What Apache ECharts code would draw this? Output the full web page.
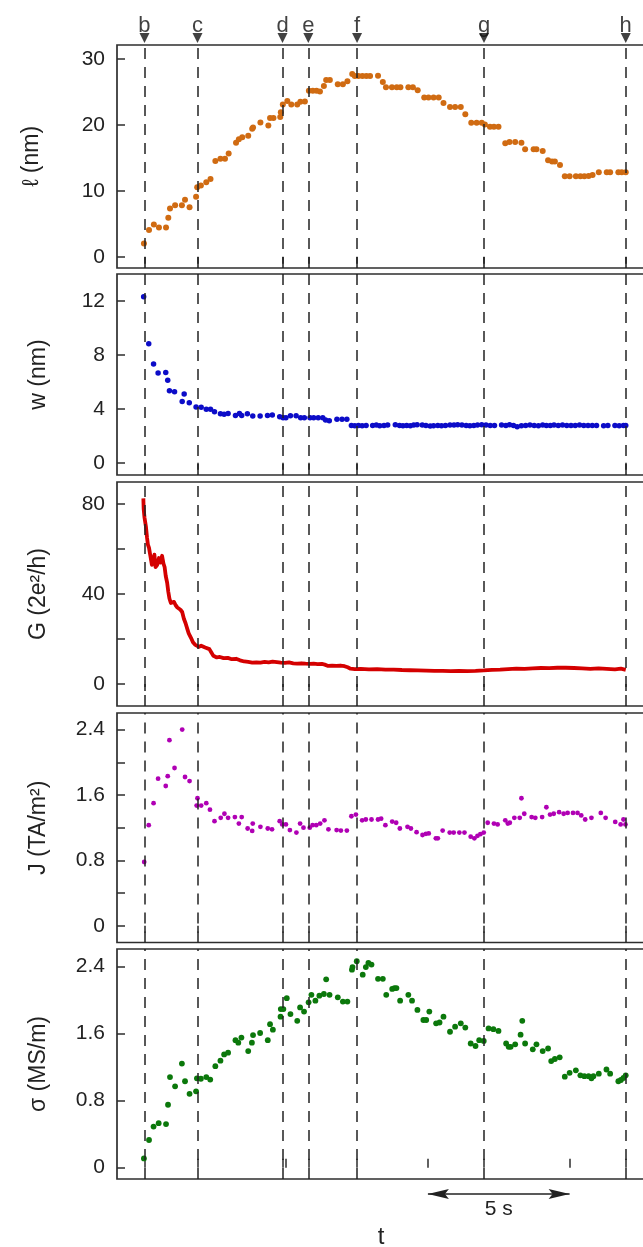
<!DOCTYPE html>
<html>
<head>
<meta charset="utf-8">
<script src="https://cdn.jsdelivr.net/npm/echarts@6/dist/echarts.min.js"></script>
<style>
html,body{margin:0;padding:0;background:#fff;overflow:hidden;width:643px;height:1247px}
#chart{width:662px;height:1247px}
</style>
</head>
<body>
<div id="chart"></div>
<script>
// ---------- event markers (time in s) ----------
const eventT = [5.0, 6.87, 9.87, 10.78, 12.50, 16.98, 21.98];
const eventLabels = ['b', 'c', 'd', 'e', 'f', 'g', 'h'];
const secondTicks = [5, 10, 15, 20];
const scaleBar = [15, 20];
const scaleBarLabel = '5 s';

// ---------- panel 1: length l (nm) ----------
const lenT = [4.98,5.16,5.33,5.51,5.76,5.84,5.90,6.08,6.32,6.43,6.59,6.82,6.86,6.99,7.18,7.33,7.50,7.68,7.84,7.97,8.23,8.33,8.45,8.66,8.80,8.83,9.09,9.37,9.43,9.55,9.79,9.81,9.88,10.04,10.18,10.39,10.50,10.66,10.80,10.94,11.07,11.19,11.33,11.41,11.54,11.82,12.00,12.16,12.33,12.42,12.55,12.69,12.83,12.96,13.24,13.41,13.52,13.73,13.90,14.03,14.31,14.47,14.64,14.87,15.02,15.20,15.38,15.55,15.78,15.96,16.16,16.32,16.53,16.72,16.90,17.01,17.19,17.33,17.49,17.73,17.88,18.08,18.30,18.43,18.73,18.83,19.05,19.24,19.38,19.48,19.66,19.83,20.00,20.22,20.38,20.52,20.67,20.81,21.03,21.31,21.43,21.72,21.84,21.98];
const lenV = [2.0,4.05,4.9,4.45,4.45,5.9,7.3,7.8,7.8,8.65,7.5,9.1,10.55,10.8,11.3,11.8,14.5,14.85,14.85,15.65,17.3,17.8,18.1,18.35,19.4,19.6,20.35,19.9,21.05,21.05,21.2,21.9,23.1,23.6,23.1,23.1,23.5,23.55,25.15,25.15,25.15,25.05,25.9,26.8,26.8,26.15,26.15,26.6,27.7,27.4,27.4,27.4,27.4,27.4,27.45,26.5,25.7,25.7,25.7,25.7,25.7,25.7,25.25,24.15,24.15,24.15,24.15,23.3,22.7,22.7,22.7,21.6,20.3,20.3,20.3,20.05,19.7,19.7,19.7,17.2,17.4,17.4,17.3,16.3,16.3,16.3,16.05,14.65,14.45,14.45,13.9,12.2,12.2,12.2,12.2,12.2,12.25,12.4,12.8,12.8,12.8,12.8,12.8,12.8];

// ---------- panel 2: width w (nm) ----------
const wT = [4.97,5.15,5.32,5.48,5.75,5.82,5.88,6.06,6.33,6.40,6.58,6.82,7.00,7.18,7.33,7.47,7.68,7.81,7.95,8.21,8.35,8.43,8.63,8.82,9.08,9.34,9.51,9.77,9.89,9.99,10.15,10.35,10.51,10.64,10.84,10.97,11.13,11.29,11.39,11.52,11.79,11.97,12.14,
  12.30,12.42,12.55,12.68,12.82,13.05,13.18,13.30,13.45,13.58,13.85,14.00,14.12,14.25,14.38,14.50,14.62,14.80,14.93,15.08,15.20,15.35,15.48,15.62,15.78,15.92,16.05,16.20,16.35,16.48,16.62,16.75,16.90,17.05,17.20,17.35,17.60,17.75,17.88,18.02,18.15,18.30,18.45,18.60,18.75,18.90,19.05,19.18,19.32,19.45,19.60,19.75,19.90,20.05,20.20,20.35,20.50,20.65,20.80,20.95,21.20,21.35,21.60,21.75,21.90,21.98];
const wV = [12.32,8.83,7.32,6.66,6.70,6.11,5.34,5.27,4.55,5.10,4.45,4.13,4.11,3.96,3.96,3.79,3.64,3.59,3.66,3.51,3.66,3.51,3.64,3.46,3.46,3.51,3.54,3.41,3.34,3.34,3.49,3.49,3.34,3.34,3.34,3.34,3.34,3.34,3.17,3.12,3.22,3.22,3.22,
  2.77,2.75,2.77,2.75,2.77,2.77,2.80,2.75,2.77,2.80,2.82,2.77,2.75,2.77,2.75,2.80,2.82,2.80,2.77,2.72,2.75,2.77,2.75,2.77,2.80,2.80,2.82,2.80,2.77,2.75,2.77,2.80,2.82,2.80,2.77,2.77,2.80,2.77,2.82,2.77,2.67,2.75,2.77,2.80,2.77,2.75,2.80,2.77,2.77,2.80,2.77,2.80,2.77,2.77,2.77,2.80,2.77,2.77,2.77,2.77,2.75,2.77,2.77,2.75,2.77,2.77];

// ---------- panel 3: conductance G (2e^2/h) ----------
const gT = [4.96,4.97,5.00,5.05,5.09,5.12,5.16,5.22,5.26,5.31,5.35,5.39,5.45,5.51,5.57,5.62,5.67,5.71,5.75,5.80,5.84,5.88,5.93,5.98,6.04,6.10,6.16,6.22,6.27,6.33,6.39,6.45,6.51,6.56,6.64,6.71,6.78,6.85,6.92,7.00,7.07,7.14,7.21,7.29,7.36,7.43,7.55,7.66,7.79,7.94,8.08,8.23,8.37,8.52,8.66,8.80,8.95,9.09,9.24,9.38,9.52,9.67,9.81,9.96,10.10,10.25,10.39,10.54,10.68,10.83,10.97,11.11,11.26,11.36,11.48,11.62,11.77,11.91,12.06,12.17,12.27,12.42,12.63,12.92,13.21,13.50,13.79,14.08,14.37,14.65,14.94,15.23,15.52,15.81,16.10,16.39,16.68,16.97,17.26,17.55,17.83,18.12,18.41,18.70,18.99,19.28,19.57,19.86,20.15,20.44,20.73,21.02,21.31,21.60,21.81,21.98];
const gV = [82.5,78,74,70,65,62,60.5,56,53,55.5,57.5,52,53,56,54,57,53.5,52,48,45,41,38,36,35.5,36.5,35,34,34.5,33,32,29,27,24.5,22.5,20.5,18.5,17.5,17,16.5,17,16.8,16.2,16.5,15.5,14,12.5,11.8,12,11.5,11.6,11,11.2,10.5,10,9.8,9.5,9.6,9.5,9.8,9.6,9.9,9.7,9.5,9.4,9.6,9.2,9.0,9.2,9.0,8.9,9.0,8.8,8.9,8.6,8.0,8.1,8.0,8.2,7.9,7.4,6.8,6.6,6.7,6.5,6.6,6.4,6.4,6.2,6.1,6.0,5.9,5.8,5.8,5.7,5.8,5.7,5.8,6.0,6.3,6.4,6.6,6.8,6.7,6.9,7.1,7.0,7.2,7.2,7.1,6.9,6.7,6.9,6.7,6.5,6.8,6.3];

// ---------- panel 4: current density J (TA/m^2) ----------
const jT = [4.99,5.15,5.32,5.48,5.75,5.82,5.88,6.06,6.33,6.43,6.59,6.84,6.87,7.00,7.18,7.31,7.47,7.69,7.82,7.95,8.19,8.33,8.43,8.64,8.80,8.82,9.09,9.35,9.50,9.77,9.86,9.99,10.13,10.36,10.49,10.61,10.83,10.93,11.06,11.20,11.35,11.49,11.78,11.93,12.14,12.30,12.46,12.68,12.81,13.01,13.24,13.35,13.50,13.74,13.88,14.01,14.28,14.40,14.60,14.81,14.93,15.03,15.28,15.35,15.52,15.77,15.91,16.11,16.29,16.51,16.64,16.75,16.85,16.97,17.11,17.33,17.46,17.73,17.82,17.89,18.05,18.24,18.30,18.40,18.66,18.79,19.03,19.18,19.31,19.44,19.63,19.79,19.93,20.12,20.28,20.41,20.55,20.77,21.10,21.27,21.61,21.80,21.90,21.97];
const jV = [0.78,1.23,1.50,1.80,1.71,1.83,2.27,1.93,2.40,1.82,1.77,1.47,1.56,1.47,1.50,1.42,1.28,1.32,1.37,1.32,1.33,1.25,1.33,1.19,1.16,1.25,1.21,1.19,1.18,1.28,1.24,1.24,1.17,1.14,1.25,1.20,1.20,1.23,1.23,1.25,1.29,1.18,1.17,1.165,1.165,1.34,1.36,1.29,1.30,1.30,1.30,1.31,1.23,1.275,1.26,1.19,1.21,1.19,1.145,1.11,1.125,1.13,1.07,1.07,1.165,1.14,1.14,1.14,1.14,1.09,1.07,1.10,1.12,1.14,1.26,1.25,1.24,1.29,1.25,1.26,1.32,1.32,1.56,1.37,1.33,1.32,1.33,1.45,1.36,1.37,1.39,1.37,1.38,1.38,1.38,1.35,1.30,1.32,1.38,1.32,1.27,1.24,1.30,1.24];

// ---------- panel 5: conductivity sigma (MS/m) ----------
const sT = [4.98,5.16,5.32,5.50,5.76,5.83,5.90,6.08,6.32,6.43,6.59,6.82,6.85,6.99,7.18,7.32,7.50,7.68,7.81,7.95,8.21,8.31,8.42,8.66,8.79,8.83,9.08,9.35,9.43,9.53,9.80,9.81,9.90,10.02,10.15,10.39,10.49,10.63,10.79,10.89,11.03,11.17,11.33,11.41,11.53,11.82,12.00,12.16,12.32,12.34,12.49,12.70,12.81,12.90,13.01,13.24,13.41,13.53,13.74,13.82,13.89,14.02,14.31,14.44,14.63,14.84,14.94,15.05,15.29,15.41,15.55,15.78,15.96,16.16,16.32,16.51,16.68,16.81,16.97,17.14,17.31,17.49,17.76,17.85,17.92,18.08,18.27,18.33,18.43,18.70,18.83,19.05,19.24,19.35,19.48,19.65,19.83,20.00,20.22,20.38,20.52,20.67,20.77,20.84,21.03,21.30,21.43,21.72,21.81,21.90,21.98];
const sV = [0.11,0.33,0.49,0.53,0.52,0.75,1.08,0.97,1.24,1.03,0.88,0.91,1.065,1.06,1.08,1.05,1.21,1.275,1.35,1.37,1.52,1.49,1.55,1.39,1.49,1.58,1.605,1.52,1.71,1.645,1.80,1.89,1.89,2.02,1.83,1.75,1.91,1.86,1.97,2.06,1.99,2.05,2.07,2.245,2.06,2.03,1.98,1.98,2.36,2.39,2.46,2.30,2.39,2.44,2.42,2.25,2.25,2.06,2.13,2.14,2.14,1.99,2.06,1.99,1.88,1.76,1.76,1.86,1.72,1.73,1.80,1.62,1.68,1.72,1.67,1.48,1.45,1.52,1.51,1.66,1.65,1.63,1.48,1.44,1.44,1.47,1.585,1.75,1.48,1.41,1.47,1.39,1.42,1.27,1.295,1.315,1.085,1.13,1.16,1.10,1.09,1.09,1.065,1.09,1.12,1.17,1.12,1.03,1.045,1.07,1.10];

// ---------- tick labels ----------
const lenTicks = [0, 10, 20, 30];
const wTicks = [0, 4, 8, 12];
const gTicks = [0, 20, 40, 60, 80];
const gLabels = [0, 40, 80];
const jTicks = [0, 0.4, 0.8, 1.2, 1.6, 2.0, 2.4];
const jLabels = [0, 0.8, 1.6, 2.4];
const sTicks = [0, 0.8, 1.6, 2.4];

const axisNames = ['\u2113 (nm)', 'w (nm)', 'G (2e\u00b2/h)', 'J (TA/m\u00b2)', '\u03c3 (MS/m)'];

// ---------- build ----------
const pair = (T, V) => T.map((t, i) => [t, V[i]]);
const FONT = '"Liberation Sans", Arial, Helvetica, sans-serif';
const INK = '#222';
const X_RANGE = [4.03, 22.66];
const yRanges = [[-1.7, 32.1], [-0.91, 14.0], [-9.8, 89.8], [-0.205, 2.603], [-0.135, 2.606]];
const gridBoxes = [[45, 223], [274, 201], [482, 224], [713, 229.5], [949, 230]];
const nameGaps = [74, 67, 67, 67, 67];
const tickSets = [lenTicks, wTicks, gTicks, jTicks, sTicks];
const labelSets = [lenTicks, wTicks, gLabels, jLabels, sTicks];
const GRID_LEFT = 117, GRID_RIGHT = 17;   // canvas is 662 wide: right frame sits just past the 643px window

const grids = gridBoxes.map(([top, h]) => ({
  left: GRID_LEFT, right: GRID_RIGHT, top: top, height: h, show: true,
  outerBoundsMode: 'none', containLabel: false,
  borderColor: '#2e2e2e', borderWidth: 1.7, backgroundColor: 'transparent'
}));
grids.push({ left: GRID_LEFT, right: GRID_RIGHT, top: 1184, height: 20, show: false,
             outerBoundsMode: 'none', containLabel: false });

const xAxes = grids.map((g, i) => {
  let tick = { show: false };
  if (i === 4) {
    tick = { show: true, inside: true, length: 9, customValues: eventT.concat(secondTicks),
             lineStyle: { color: '#2e2e2e', width: 1.5 } };
  } else if (i < 4) {
    // dashed event lines carry on through the small gap between stacked panels
    tick = { show: true, inside: false, length: 7, customValues: eventT,
             lineStyle: { color: INK, width: 1.5 } };
  }
  return {
    type: 'value', gridIndex: i, min: X_RANGE[0], max: X_RANGE[1],
    axisLine: { show: false }, splitLine: { show: false },
    axisLabel: { show: false },
    axisTick: tick,
    name: i === 4 ? 't' : '', nameLocation: 'middle', nameGap: 46,
    nameTextStyle: { fontSize: 24, color: INK, fontFamily: FONT }
  };
});

const yAxes = gridBoxes.map((g, i) => ({
  type: 'value', gridIndex: i, min: yRanges[i][0], max: yRanges[i][1],
  axisLine: { show: false }, splitLine: { show: false },
  axisTick: { show: true, inside: true, length: 8, customValues: tickSets[i], lineStyle: { color: '#2e2e2e', width: 1.5 } },
  axisLabel: { show: true, customValues: labelSets[i], fontSize: 21, color: INK, margin: 12, fontFamily: FONT },
  name: axisNames[i], nameLocation: 'middle', nameGap: nameGaps[i],
  nameTextStyle: { fontSize: 23, color: INK, fontFamily: FONT }
}));
yAxes.push({ type: 'value', gridIndex: 5, min: 0, max: 1, show: false });

const eventLines = () => ({
  symbol: 'none', silent: true, animation: false,
  label: { show: false }, emphasis: { disabled: true },
  lineStyle: { type: [11, 8], color: INK, width: 1.5 },
  data: eventT.map(t => ({ xAxis: t }))
});

const scatter = (i, data, color, size) => ({
  type: 'scatter', xAxisIndex: i, yAxisIndex: i, data: data,
  symbolSize: size, itemStyle: { color: color, opacity: 1 },
  silent: true, z: 3, markLine: eventLines()
});

// arrow head whose tip sits at the centre of a square bounding box
const arrowHead = 'path://M0,0L5,21L0,17L-5,21Z M-21,-21L-20.99,-21 M21,21L20.99,21';

const option = {
  animation: false,
  textStyle: { fontFamily: FONT },
  grid: grids,
  xAxis: xAxes,
  yAxis: yAxes,
  series: [
    scatter(0, pair(lenT, lenV), '#d06b12', 6),
    scatter(1, pair(wT, wV), '#0c0cc8', 5.5),
    {
      type: 'line', xAxisIndex: 2, yAxisIndex: 2, data: pair(gT, gV),
      showSymbol: false, silent: true, z: 3,
      lineStyle: { width: 3.8, color: '#d40000', join: 'round' },
      itemStyle: { color: '#d40000' },
      markLine: eventLines()
    },
    scatter(3, pair(jT, jV), '#b000b4', 4.8),
    scatter(4, pair(sT, sV), '#0b780b', 5.8),
    {
      type: 'scatter', xAxisIndex: 0, yAxisIndex: 0, clip: false, silent: true, z: 5,
      data: eventT.map((t, i) => ({ value: [t, yRanges[0][1]], name: eventLabels[i] })),
      symbol: 'path://M0,0L10,0L5,10Z', symbolSize: [10, 10], symbolOffset: [0, -7],
      itemStyle: { color: '#111' },
      label: { show: true, position: 'top', distance: -4, formatter: p => p.name,
               fontSize: 22, color: '#111', fontFamily: FONT }
    },
    {
      type: 'line', xAxisIndex: 5, yAxisIndex: 5, data: [], silent: true,
      markLine: {
        silent: true, animation: false, emphasis: { disabled: true },
        symbol: [arrowHead, arrowHead],
        symbolSize: 42,
        lineStyle: { color: INK, width: 1.6, type: 'solid' },
        itemStyle: { color: INK },
        label: { show: true, position: 'insideMiddleBottom', distance: 5, formatter: scaleBarLabel,
                 fontSize: 21, color: INK, fontFamily: FONT },
        data: [[{ coord: [scaleBar[0], 0.5] }, { coord: [scaleBar[1], 0.5] }]]
      }
    }
  ]
};

const chart = echarts.init(document.getElementById('chart'), null, { renderer: 'canvas' });
chart.setOption(option);
</script>
</body>
</html>
